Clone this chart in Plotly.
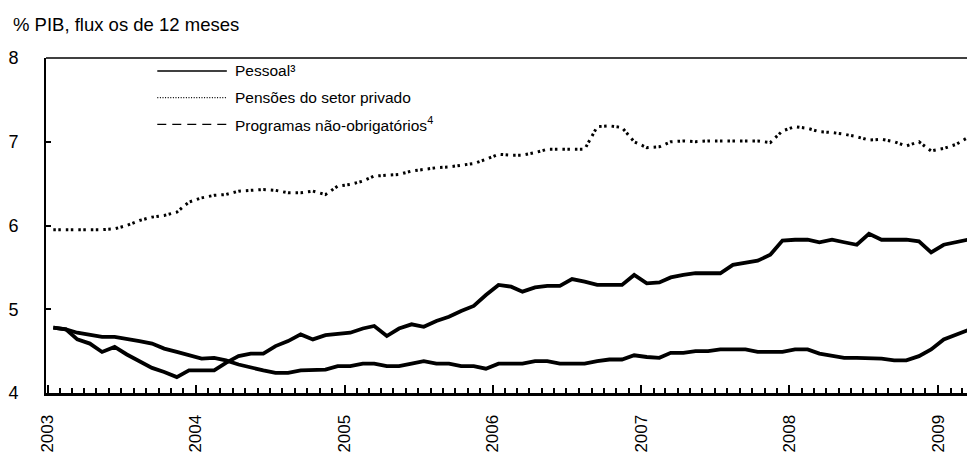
import plotly.graph_objects as go

# Monthly observations, Jan 2003 - Apr 2009 (plotted mid-month)
months = [f"{2003 + i // 12}-{i % 12 + 1:02d}-15" for i in range(76)]

pessoal = [4.78, 4.76, 4.72, 4.70, 4.67, 4.67, 4.65, 4.62, 4.59, 4.53, 4.49, 4.45,
           4.41, 4.42, 4.39, 4.34, 4.30, 4.27, 4.24, 4.24, 4.27, 4.27, 4.28, 4.32,
           4.32, 4.35, 4.35, 4.32, 4.32, 4.35, 4.38, 4.35, 4.35, 4.32, 4.32, 4.29,
           4.35, 4.35, 4.35, 4.38, 4.38, 4.35, 4.35, 4.35, 4.38, 4.40, 4.40, 4.45,
           4.43, 4.42, 4.48, 4.48, 4.50, 4.50, 4.52, 4.52, 4.52, 4.49, 4.49, 4.49,
           4.52, 4.52, 4.47, 4.44, 4.42, 4.42, 4.42, 4.41, 4.39, 4.39, 4.44, 4.52,
           4.64, 4.70, 4.75, 4.80]

pensoes = [5.95, 5.95, 5.95, 5.95, 5.95, 5.96, 6.00, 6.06, 6.10, 6.12, 6.16, 6.28,
           6.33, 6.36, 6.37, 6.41, 6.42, 6.43, 6.42, 6.39, 6.39, 6.41, 6.37, 6.47,
           6.49, 6.53, 6.59, 6.60, 6.61, 6.65, 6.67, 6.69, 6.70, 6.72, 6.74, 6.79,
           6.85, 6.84, 6.84, 6.87, 6.91, 6.91, 6.91, 6.91, 7.18, 7.19, 7.17, 7.00,
           6.93, 6.94, 7.00, 7.01, 7.00, 7.01, 7.01, 7.01, 7.01, 7.01, 6.99, 7.13,
           7.18, 7.16, 7.12, 7.11, 7.09, 7.06, 7.02, 7.03, 7.00, 6.95, 7.00, 6.89,
           6.92, 6.97, 7.05, 7.10]

programas = [4.78, 4.76, 4.64, 4.59, 4.49, 4.55, 4.46, 4.38, 4.30, 4.25, 4.19, 4.27,
             4.27, 4.27, 4.36, 4.44, 4.47, 4.47, 4.56, 4.62, 4.70, 4.64, 4.69, 4.70,
             4.72, 4.77, 4.80, 4.68, 4.77, 4.82, 4.79, 4.86, 4.91, 4.98, 5.04, 5.17,
             5.29, 5.27, 5.21, 5.26, 5.28, 5.28, 5.36, 5.33, 5.29, 5.29, 5.29, 5.41,
             5.31, 5.32, 5.38, 5.41, 5.43, 5.43, 5.43, 5.53, 5.56, 5.58, 5.65, 5.82,
             5.83, 5.83, 5.80, 5.83, 5.80, 5.77, 5.90, 5.83, 5.83, 5.83, 5.81, 5.68,
             5.77, 5.80, 5.83, 5.93]

legend_labels = ["Pessoal³", "Pensões do setor privado", "Programas não-obrigatórios<sup>4</sup>"]
title_text = "% PIB, flux os de 12 meses"

TXT = "Liberation Sans, Arial, sans-serif"

fig = go.Figure()
fig.add_trace(go.Scatter(x=months, y=pensoes, mode="lines", name=legend_labels[1],
                         line=dict(color="black", width=3, dash="2.5px,2.5px,2.5px,5px"),
                         showlegend=False))
fig.add_trace(go.Scatter(x=months, y=programas, mode="lines", name=legend_labels[2],
                         line=dict(color="black", width=3.8), showlegend=False))
fig.add_trace(go.Scatter(x=months, y=pessoal, mode="lines", name=legend_labels[0],
                         line=dict(color="black", width=3.8), showlegend=False))

# page body has an 8px margin: the figure is placed at (8, 8) in the window
OFF = 8
W, H = 975 - OFF, 453 - OFF
L, R, T, B = 40 - OFF, 0, 58 - OFF, 57
pw, ph = W - L - R, H - T - B

def px(xp):
    return (xp - OFF - L) / pw

def py(yp):
    return 1 - (yp - OFF - T) / ph

rows = [71, 98, 125]
dashes = ["solid", "1px,1.6px", "9px,6px"]
for lab, yy, ds in zip(legend_labels, rows, dashes):
    fig.add_shape(type="line", xref="paper", yref="paper",
                  x0=px(152), x1=px(222), y0=py(yy), y1=py(yy),
                  line=dict(color="black", width=1.5 if ds == "solid" else 1.2, dash=ds))
    fig.add_annotation(xref="paper", yref="paper", x=px(228), y=py(yy),
                       xanchor="left", yanchor="middle", text=lab, showarrow=False,
                       font=dict(family=TXT, size=15.5, color="black"))

# top border
fig.add_shape(type="line", xref="paper", yref="paper", x0=0, x1=1, y0=1, y1=1,
              line=dict(color="black", width=1.5))

fig.update_layout(
    width=W, height=H,
    margin=dict(l=L, r=R, t=T, b=B),
    paper_bgcolor="white", plot_bgcolor="white",
    title=dict(text=title_text, x=(13 - OFF) / W, xanchor="left", xref="container",
               y=1 - (25 - OFF) / H, yref="container", yanchor="middle",
               font=dict(family=TXT, size=18.5, color="black")),
    xaxis=dict(type="date", range=["2002-12-28", "2009-04-02"],
               tick0="2003-01-01", dtick="M12", tickformat="%Y", tickangle=-90,
               ticks="inside", ticklen=8, tickwidth=2, tickcolor="black",
               showline=True, linecolor="black", linewidth=3, showgrid=False,
               zeroline=False, ticklabelstandoff=12,
               tickfont=dict(family=TXT, size=17, color="black"),
               minor=dict(dtick="M1", tick0="2003-01-01", ticks="inside", ticklen=5,
                          tickwidth=1.5, tickcolor="black", showgrid=False)),
    yaxis=dict(range=[4, 8], dtick=1, ticks="inside", ticklen=5, tickwidth=1.5,
               tickcolor="black", showline=True, linecolor="black", linewidth=2,
               showgrid=False, zeroline=False, ticklabelstandoff=22,
               tickfont=dict(family=TXT, size=18, color="black")),
)

fig.write_html("out.html")
